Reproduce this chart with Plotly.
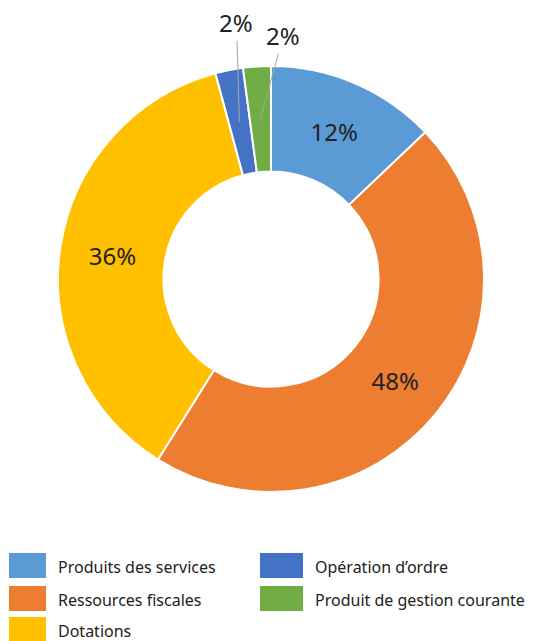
import math
import plotly.graph_objects as go

# ---- data ----
categories = ["Produits des services", "Ressources fiscales", "Dotations",
              "Opération d’ordre", "Produit de gestion courante"]
values = [12.9, 46.0, 36.9, 2.1, 2.1]
pct_labels = ["12%", "48%", "36%", "2%", "2%"]
colors = ["#5B9BD5", "#ED7D31", "#FFC000", "#4472C4", "#70AD47"]
inside = [True, True, True, False, False]
# legend layout order (row-major, two columns)
legend_order = [0, 3, 1, 4, 2]

# ---- geometry ----
W, H = 547, 641
cx, cy, R = 271, 279, 213
hole = 0.505
FONT = "Noto Sans"
TXT = "#222222"

fig = go.Figure()
fig.add_trace(go.Pie(
    labels=categories, values=values, sort=False, direction="clockwise",
    rotation=0, hole=hole,
    marker=dict(colors=colors, line=dict(color="white", width=2)),
    text=[t if ins else "" for t, ins in zip(pct_labels, inside)],
    textinfo="text", textposition="inside",
    insidetextorientation="horizontal",
    textfont=dict(family=FONT, size=24, color=TXT),
    domain=dict(x=[(cx - R) / W, (cx + R) / W], y=[1 - (cy + R) / H, 1 - (cy - R) / H]),
    showlegend=False, hoverinfo="label+percent",
))

annotations = []
# outside labels with leader lines for small slices
total = sum(values)
offsets = {3: (-3, -99), 4: (23, -84)}
cum = 0
rmid = R * (1 + hole) / 2
for i, v in enumerate(values):
    mid = (cum + v / 2) / total * 2 * math.pi
    cum += v
    if inside[i]:
        continue
    px = cx + rmid * math.sin(mid)
    py = cy - rmid * math.cos(mid)
    ax, ay = offsets[i]
    annotations.append(dict(
        x=px / W, y=1 - py / H, xref="paper", yref="paper",
        text=pct_labels[i], showarrow=True, arrowhead=0, arrowwidth=1,
        arrowcolor="#A6A6A6", ax=ax, ay=ay, standoff=0,
        font=dict(family=FONT, size=24, color=TXT),
    ))

# legend drawn manually (two columns)
shapes = []
col_x = [9, 260]
col_w = [37, 43]
text_x = [56, 313]
row_y = [553, 586, 617]
sh = 25
for k, idx in enumerate(legend_order):
    col, row = k % 2, k // 2
    x0, y0 = col_x[col], row_y[row]
    x1 = x0 + col_w[col]
    shapes.append(dict(type="rect", xref="paper", yref="paper",
                       x0=x0 / W, x1=x1 / W, y0=1 - y0 / H, y1=1 - (y0 + sh) / H,
                       fillcolor=colors[idx], line=dict(width=0)))
    annotations.append(dict(
        x=text_x[col] / W, y=1 - (y0 + sh / 2 + 1) / H, xref="paper", yref="paper",
        text=categories[idx], showarrow=False, xanchor="left", yanchor="middle",
        font=dict(family=FONT, size=16, color=TXT),
    ))

fig.update_layout(
    width=W, height=H, margin=dict(l=0, r=0, t=0, b=0),
    paper_bgcolor="white", plot_bgcolor="white",
    shapes=shapes, annotations=annotations,
)
fig.write_html("out.html", config={"displayModeBar": False},
               post_script="document.body.style.margin='0px';document.body.style.overflow='hidden';")
